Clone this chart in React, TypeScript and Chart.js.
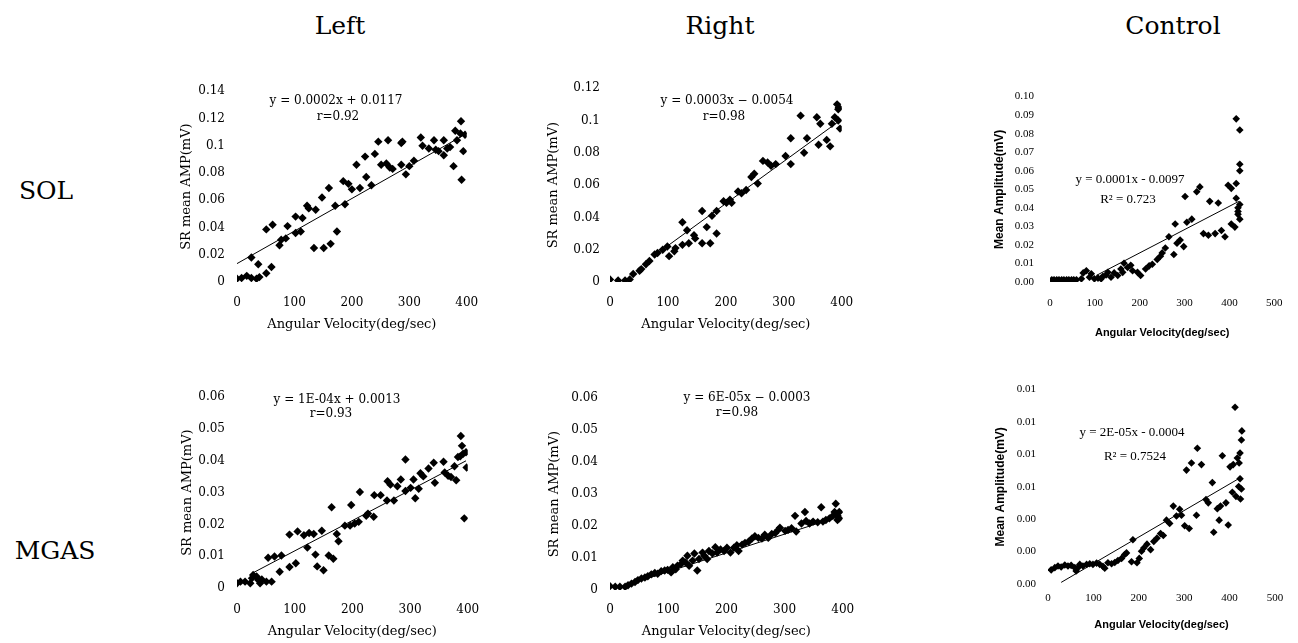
import React, { useEffect, useRef } from "react";
import { Chart, registerables } from "chart.js";

Chart.register(...registerables);

// ---------------- titles ----------------
const columnTitles = ["Left", "Right", "Control"];
const rowTitles = ["SOL", "MGAS"];

// ---------------- SOL / Left ----------------
const solLeftVel = [0, 8, 17, 25, 34, 25, 39, 37, 51, 60, 51, 62, 74, 77, 85, 88, 102, 102, 111, 114, 122, 125, 137, 134, 148, 151, 160, 163, 174, 171, 185, 188, 194, 200, 208, 214, 223, 225, 234, 240, 246, 251, 260, 263, 266, 271, 286, 288, 286, 294, 300, 308, 320, 323, 334, 343, 346, 351, 360, 360, 366, 371, 377, 380, 383, 389, 391, 394, 397, 390];
const solLeftAmp = [0.0024, 0.0029, 0.0045, 0.0029, 0.0024, 0.018, 0.0036, 0.013, 0.0064, 0.011, 0.0386, 0.042, 0.027, 0.031, 0.032, 0.041, 0.036, 0.048, 0.037, 0.047, 0.056, 0.054, 0.053, 0.025, 0.062, 0.025, 0.069, 0.028, 0.037, 0.056, 0.074, 0.057, 0.072, 0.068, 0.086, 0.069, 0.092, 0.077, 0.071, 0.094, 0.103, 0.086, 0.087, 0.104, 0.084, 0.083, 0.102, 0.103, 0.086, 0.079, 0.085, 0.089, 0.106, 0.1, 0.098, 0.104, 0.097, 0.096, 0.104, 0.093, 0.098, 0.099, 0.085, 0.111, 0.104, 0.109, 0.075, 0.096, 0.108, 0.118];
const solLeftFitVel = [0, 400];
const solLeftFitAmp = [0.0135, 0.109];
const solLeftEq = ["y = 0.0002x + 0.0117", "r=0.92"];

// ---------------- SOL / Right ----------------
const solRightVel = [0, 14, 26, 34, 40, 51, 54, 62, 68, 77, 82, 91, 99, 102, 111, 113, 125, 125, 133, 136, 145, 147, 159, 159, 167, 173, 176, 184, 184, 196, 201, 207, 210, 221, 227, 235, 244, 249, 255, 264, 272, 278, 286, 303, 312, 312, 329, 335, 340, 357, 360, 363, 374, 380, 383, 388, 394, 394, 397, 392, 395];
const solRightAmp = [0.0016, 0.001, 0.001, 0.0016, 0.005, 0.007, 0.008, 0.011, 0.013, 0.017, 0.018, 0.02, 0.022, 0.016, 0.019, 0.021, 0.037, 0.023, 0.032, 0.024, 0.029, 0.027, 0.044, 0.024, 0.034, 0.024, 0.041, 0.044, 0.03, 0.05, 0.049, 0.051, 0.049, 0.056, 0.055, 0.057, 0.065, 0.067, 0.061, 0.075, 0.074, 0.072, 0.073, 0.078, 0.089, 0.073, 0.103, 0.08, 0.089, 0.102, 0.085, 0.098, 0.088, 0.084, 0.098, 0.102, 0.107, 0.1, 0.095, 0.11, 0.108];
const solRightFitVel = [77, 397];
const solRightFitAmp = [0.0165, 0.1];
const solRightEq = ["y = 0.0003x \u2212 0.0054", "r=0.98"];

// ---------------- SOL / Control ----------------
const solCtrlVel = [4, 9, 15, 20, 26, 31, 37, 42, 48, 53, 59, 70, 74, 81, 88, 92, 99, 107, 114, 118, 125, 129, 136, 143, 151, 158, 162, 165, 173, 180, 184, 195, 202, 213, 221, 228, 239, 246, 250, 257, 265, 276, 279, 283, 290, 298, 301, 305, 316, 327, 334, 342, 353, 368, 356, 375, 382, 390, 397, 404, 404, 412, 415, 415, 419, 419, 423, 423, 423, 423, 415, 423, 419];
const solCtrlAmp = [0.0012, 0.0012, 0.0012, 0.0012, 0.0012, 0.0012, 0.0012, 0.0012, 0.0012, 0.0012, 0.0012, 0.0017, 0.0049, 0.0061, 0.0026, 0.0044, 0.0017, 0.0021, 0.0017, 0.0031, 0.0038, 0.0052, 0.0026, 0.0049, 0.0035, 0.007, 0.0052, 0.0101, 0.0078, 0.009, 0.0061, 0.0052, 0.0035, 0.007, 0.0087, 0.0096, 0.0122, 0.0139, 0.0157, 0.0183, 0.0244, 0.0148, 0.0313, 0.0209, 0.0226, 0.0191, 0.0461, 0.0322, 0.0339, 0.0487, 0.0513, 0.0261, 0.0252, 0.0261, 0.0435, 0.0426, 0.0278, 0.0244, 0.0522, 0.0505, 0.0313, 0.0296, 0.0452, 0.0531, 0.04, 0.0365, 0.0418, 0.0339, 0.06, 0.0635, 0.088, 0.082, 0.038];
const solCtrlFitVel = [103, 421];
const solCtrlFitAmp = [0.0035, 0.0435];
const solCtrlEq = ["y = 0.0001x - 0.0097", "R\u00b2 = 0.723"];

// ---------------- MGAS / Left ----------------
const mgasLeftVel = [0, 6, 14, 23, 26, 28, 34, 37, 40, 43, 51, 54, 60, 65, 74, 77, 91, 91, 102, 105, 116, 122, 125, 133, 136, 139, 147, 150, 159, 164, 167, 173, 176, 187, 196, 198, 204, 211, 213, 224, 227, 237, 238, 249, 260, 261, 266, 272, 278, 284, 292, 292, 301, 306, 309, 315, 318, 323, 332, 341, 343, 358, 360, 366, 371, 380, 377, 383, 387, 388, 390, 392, 394, 397, 398];
const mgasLeftAmp = [0.0015, 0.002, 0.002, 0.0015, 0.0031, 0.0041, 0.0036, 0.0025, 0.0015, 0.0027, 0.002, 0.0095, 0.002, 0.0099, 0.0051, 0.0102, 0.0168, 0.0066, 0.0078, 0.0178, 0.0166, 0.0127, 0.0173, 0.017, 0.0105, 0.0068, 0.018, 0.0056, 0.0102, 0.0254, 0.0092, 0.017, 0.0147, 0.0196, 0.0196, 0.0261, 0.0203, 0.0208, 0.0302, 0.0227, 0.0234, 0.0224, 0.0292, 0.0292, 0.0275, 0.0336, 0.0325, 0.0275, 0.032, 0.0341, 0.0404, 0.0305, 0.0315, 0.0341, 0.0282, 0.0312, 0.0361, 0.0351, 0.0376, 0.0394, 0.0331, 0.0397, 0.0363, 0.0353, 0.0349, 0.0339, 0.0383, 0.0412, 0.0414, 0.0478, 0.0447, 0.0422, 0.0219, 0.0427, 0.0379];
const mgasLeftFitVel = [28, 397];
const mgasLeftFitAmp = [0.0048, 0.04];
const mgasLeftEq = ["y = 1E-04x + 0.0013", "r=0.93"];

// ---------------- MGAS / Right ----------------
const mgasRightVel = [0, 9, 17, 26, 31, 37, 43, 48, 54, 60, 65, 71, 77, 82, 88, 94, 99, 105, 108, 113, 116, 122, 125, 130, 133, 136, 142, 145, 150, 153, 159, 162, 167, 170, 176, 181, 184, 190, 196, 201, 207, 213, 218, 221, 227, 232, 238, 244, 249, 255, 261, 266, 272, 278, 284, 289, 292, 301, 306, 312, 318, 320, 329, 335, 337, 343, 349, 357, 363, 366, 371, 377, 383, 386, 388, 391, 394, 391, 394];
const mgasRightAmp = [0.0012, 0.001, 0.001, 0.001, 0.0015, 0.002, 0.0025, 0.0031, 0.0036, 0.0039, 0.0043, 0.0049, 0.0053, 0.0051, 0.0059, 0.0061, 0.0063, 0.0055, 0.0071, 0.0065, 0.0076, 0.0081, 0.0092, 0.0086, 0.0107, 0.0076, 0.0092, 0.0114, 0.0061, 0.0097, 0.0117, 0.0107, 0.0097, 0.0122, 0.0114, 0.0134, 0.0117, 0.0127, 0.0122, 0.0132, 0.0117, 0.0132, 0.014, 0.0122, 0.0142, 0.0147, 0.0151, 0.0161, 0.0168, 0.0163, 0.0161, 0.0173, 0.0163, 0.0175, 0.0178, 0.0188, 0.0195, 0.0185, 0.0188, 0.0193, 0.0232, 0.0183, 0.0208, 0.0244, 0.0216, 0.0208, 0.0214, 0.0212, 0.0259, 0.0214, 0.0219, 0.0224, 0.0232, 0.0244, 0.027, 0.0219, 0.0244, 0.0232, 0.0224];
const mgasRightFitVel = [40, 394];
const mgasRightFitAmp = [0.0022, 0.023];
const mgasRightEq = ["y = 6E-05x \u2212 0.0003", "r=0.98"];

// ---------------- MGAS / Control ----------------
const mgasCtrlVel = [7, 15, 22, 29, 37, 44, 51, 59, 62, 66, 70, 77, 85, 92, 99, 107, 114, 121, 125, 132, 140, 147, 154, 162, 169, 173, 184, 187, 196, 201, 206, 211, 218, 226, 233, 240, 248, 254, 261, 268, 276, 283, 290, 294, 301, 305, 311, 316, 327, 329, 338, 348, 353, 362, 365, 373, 377, 380, 384, 392, 397, 401, 406, 408, 412, 414, 417, 420, 421, 423, 424, 426, 427, 426, 423];
const mgasCtrlAmp = [0.00087, 0.00101, 0.00111, 0.00105, 0.00117, 0.00111, 0.00115, 0.00101, 0.00081, 0.00101, 0.00121, 0.00111, 0.00121, 0.00125, 0.00121, 0.00129, 0.00121, 0.00109, 0.00097, 0.00131, 0.00125, 0.00133, 0.00145, 0.00158, 0.00182, 0.00192, 0.00137, 0.00273, 0.00131, 0.00158, 0.00202, 0.00222, 0.00246, 0.00212, 0.00263, 0.00283, 0.00311, 0.00299, 0.00394, 0.00374, 0.00481, 0.0042, 0.00461, 0.00424, 0.0036, 0.00703, 0.00343, 0.00747, 0.00424, 0.00838, 0.00737, 0.00521, 0.00501, 0.00626, 0.00319, 0.00465, 0.00394, 0.00481, 0.00792, 0.00501, 0.00364, 0.00723, 0.00566, 0.00737, 0.01091, 0.00541, 0.00778, 0.00602, 0.00747, 0.00808, 0.00525, 0.00889, 0.00945, 0.00586, 0.0065];
const mgasCtrlFitVel = [29, 426];
const mgasCtrlFitAmp = [0.0001, 0.0066];
const mgasCtrlEq = ["y = 2E-05x - 0.0004", "R\u00b2 = 0.7524"];

// ---------------- ticks ----------------
const lrXTicks = [0, 100, 200, 300, 400];
const lrXLabels = ["0", "100", "200", "300", "400"];
const ctrlXTicks = [0, 100, 200, 300, 400, 500];
const ctrlXLabels = ["0", "100", "200", "300", "400", "500"];
const solLeftYTicks = [0, 0.02, 0.04, 0.06, 0.08, 0.1, 0.12, 0.14];
const solLeftYLabels = ["0", "0.02", "0.04", "0.06", "0.08", "0.1", "0.12", "0.14"];
const solRightYTicks = [0, 0.02, 0.04, 0.06, 0.08, 0.1, 0.12];
const solRightYLabels = ["0", "0.02", "0.04", "0.06", "0.08", "0.1", "0.12"];
const solCtrlYTicks = [0, 0.01, 0.02, 0.03, 0.04, 0.05, 0.06, 0.07, 0.08, 0.09, 0.1];
const solCtrlYLabels = ["0.00", "0.01", "0.02", "0.03", "0.04", "0.05", "0.06", "0.07", "0.08", "0.09", "0.10"];
const mgasYTicks = [0, 0.01, 0.02, 0.03, 0.04, 0.05, 0.06];
const mgasYLabels = ["0", "0.01", "0.02", "0.03", "0.04", "0.05", "0.06"];
const mgasCtrlYTicks = [0, 0.002, 0.004, 0.006, 0.008, 0.01, 0.012];
const mgasCtrlYLabels = ["0.00", "0.00", "0.00", "0.01", "0.01", "0.01", "0.01"];

const lrXTitle = "Angular Velocity(deg/sec)";
const lrYTitle = "SR mean AMP(mV)";
const ctrlXTitle = "Angular Velocity(deg/sec)";
const ctrlYTitle = "Mean Amplitude(mV)";

// ---------------- styles ----------------
const LR_FAMILY = "'DejaVu Serif', 'Liberation Serif', serif";
const CT_FAMILY = "'Liberation Serif', 'DejaVu Serif', serif";
const CT_SANS = "'Liberation Sans', Arial, sans-serif";

type Style = {
  tickFamily: string; tickSize: number;
  xTitleFamily: string; xTitleSize: number; xTitleWeight: string;
  yTitleFamily: string; yTitleSize: number; yTitleWeight: string;
  eqFamily: string; eqSize: number; pointR: number;
};
const LR_STYLE: Style = {
  tickFamily: LR_FAMILY, tickSize: 12,
  xTitleFamily: LR_FAMILY, xTitleSize: 13, xTitleWeight: "normal",
  yTitleFamily: LR_FAMILY, yTitleSize: 13, yTitleWeight: "normal",
  eqFamily: LR_FAMILY, eqSize: 12, pointR: 4.2,
};
const CT_STYLE: Style = {
  tickFamily: CT_FAMILY, tickSize: 11,
  xTitleFamily: CT_SANS, xTitleSize: 11, xTitleWeight: "bold",
  yTitleFamily: CT_SANS, yTitleSize: 12, yTitleWeight: "bold",
  eqFamily: CT_FAMILY, eqSize: 13, pointR: 3.8,
};

type Layout = {
  plot: { l: number; r: number; t: number; b: number };
  yTitleX: number; yLabelR: number; xLabelY: number; xTitleY: number;
  eqPos: { x: number; y: number }[];
};

type PanelSpec = {
  id: string;
  xs: number[]; ys: number[]; fitX: number[]; fitY: number[];
  xMax: number; xTicks: number[]; xLabels: string[];
  yMax: number; yTicks: number[]; yLabels: string[];
  xTitle: string; yTitle: string; eq: string[];
  style: Style; layout: Layout;
};

const panels: PanelSpec[] = [
  {
    id: "solLeft", xs: solLeftVel, ys: solLeftAmp, fitX: solLeftFitVel, fitY: solLeftFitAmp,
    xMax: 400, xTicks: lrXTicks, xLabels: lrXLabels, yMax: 0.14, yTicks: solLeftYTicks, yLabels: solLeftYLabels,
    xTitle: lrXTitle, yTitle: lrYTitle, eq: solLeftEq, style: LR_STYLE,
    layout: { plot: { l: 237, r: 470, t: 86, b: 282 }, yTitleX: 187, yLabelR: 225, xLabelY: 303, xTitleY: 324, eqPos: [{ x: 336, y: 101 }, { x: 338, y: 117 }] },
  },
  {
    id: "solRight", xs: solRightVel, ys: solRightAmp, fitX: solRightFitVel, fitY: solRightFitAmp,
    xMax: 400, xTicks: lrXTicks, xLabels: lrXLabels, yMax: 0.12, yTicks: solRightYTicks, yLabels: solRightYLabels,
    xTitle: lrXTitle, yTitle: lrYTitle, eq: solRightEq, style: LR_STYLE,
    layout: { plot: { l: 610, r: 845, t: 85, b: 282 }, yTitleX: 554, yLabelR: 600, xLabelY: 303, xTitleY: 324, eqPos: [{ x: 727, y: 101 }, { x: 724, y: 117 }] },
  },
  {
    id: "solCtrl", xs: solCtrlVel, ys: solCtrlAmp, fitX: solCtrlFitVel, fitY: solCtrlFitAmp,
    xMax: 500, xTicks: ctrlXTicks, xLabels: ctrlXLabels, yMax: 0.1, yTicks: solCtrlYTicks, yLabels: solCtrlYLabels,
    xTitle: ctrlXTitle, yTitle: ctrlYTitle, eq: solCtrlEq, style: CT_STYLE,
    layout: { plot: { l: 1050, r: 1275, t: 88, b: 282 }, yTitleX: 999, yLabelR: 1034, xLabelY: 303, xTitleY: 333, eqPos: [{ x: 1130, y: 180 }, { x: 1128, y: 200 }] },
  },
  {
    id: "mgasLeft", xs: mgasLeftVel, ys: mgasLeftAmp, fitX: mgasLeftFitVel, fitY: mgasLeftFitAmp,
    xMax: 400, xTicks: lrXTicks, xLabels: lrXLabels, yMax: 0.06, yTicks: mgasYTicks, yLabels: mgasYLabels,
    xTitle: lrXTitle, yTitle: lrYTitle, eq: mgasLeftEq, style: LR_STYLE,
    layout: { plot: { l: 237, r: 472, t: 392, b: 588 }, yTitleX: 188, yLabelR: 225, xLabelY: 610, xTitleY: 631, eqPos: [{ x: 337, y: 400 }, { x: 331, y: 414 }] },
  },
  {
    id: "mgasRight", xs: mgasRightVel, ys: mgasRightAmp, fitX: mgasRightFitVel, fitY: mgasRightFitAmp,
    xMax: 400, xTicks: lrXTicks, xLabels: lrXLabels, yMax: 0.06, yTicks: mgasYTicks, yLabels: mgasYLabels,
    xTitle: lrXTitle, yTitle: lrYTitle, eq: mgasRightEq, style: LR_STYLE,
    layout: { plot: { l: 610, r: 845, t: 393, b: 590 }, yTitleX: 555, yLabelR: 598, xLabelY: 610, xTitleY: 631, eqPos: [{ x: 747, y: 398 }, { x: 737, y: 413 }] },
  },
  {
    id: "mgasCtrl", xs: mgasCtrlVel, ys: mgasCtrlAmp, fitX: mgasCtrlFitVel, fitY: mgasCtrlFitAmp,
    xMax: 500, xTicks: ctrlXTicks, xLabels: ctrlXLabels, yMax: 0.012, yTicks: mgasCtrlYTicks, yLabels: mgasCtrlYLabels,
    xTitle: ctrlXTitle, yTitle: ctrlYTitle, eq: mgasCtrlEq, style: CT_STYLE,
    layout: { plot: { l: 1048, r: 1275, t: 385, b: 584 }, yTitleX: 1000, yLabelR: 1036, xLabelY: 598, xTitleY: 625, eqPos: [{ x: 1132, y: 433 }, { x: 1135, y: 457 }] },
  },
];

const colTitlePos = [{ x: 340, y: 25 }, { x: 720, y: 25 }, { x: 1173, y: 25 }];
const rowTitlePos = [{ x: 46, y: 190 }, { x: 55, y: 550 }];

function Panel({ spec }: { spec: PanelSpec }) {
  const ref = useRef<HTMLCanvasElement | null>(null);
  const st = spec.style;
  const L = spec.layout;
  const padTop = 14;
  const padRight = 22;
  const yTitleLH = st.yTitleSize * 1.2;
  const xTitleLH = st.xTitleSize * 1.2;
  const tickLH = st.tickSize * 1.2;
  const left = Math.round(L.yTitleX - yTitleLH / 2);
  const top = L.plot.t - padTop;
  const yW = L.plot.l - left;
  const xH = Math.round(L.xTitleY - L.plot.b + xTitleLH / 2);
  const width = L.plot.r - left + padRight;
  const height = padTop + (L.plot.b - L.plot.t) + xH;

  useEffect(() => {
    const canvas = ref.current;
    if (!canvas) return;
    const points = spec.xs.map((x, i) => ({ x, y: spec.ys[i] }));
    const fit = spec.fitX.map((x, i) => ({ x, y: spec.fitY[i] }));
    const eqPlugin = {
      id: "eq_" + spec.id,
      afterDatasetsDraw(chart: any) {
        const ctx = chart.ctx as CanvasRenderingContext2D;
        ctx.save();
        ctx.fillStyle = "#000";
        ctx.font = `${st.eqSize}px ${st.eqFamily}`;
        ctx.textAlign = "center";
        ctx.textBaseline = "middle";
        spec.eq.forEach((t, i) => {
          const p = L.eqPos[i];
          ctx.fillText(t, p.x - left, p.y - top);
        });
        ctx.restore();
      },
    };
    const chart = new Chart(canvas, {
      type: "scatter",
      data: {
        datasets: [
          {
            type: "line",
            data: fit,
            borderColor: "#000",
            borderWidth: 1,
            pointRadius: 0,
            fill: false,
            tension: 0,
          } as any,
          {
            type: "scatter",
            data: points,
            pointStyle: "rectRot",
            pointRadius: st.pointR,
            pointHoverRadius: st.pointR,
            backgroundColor: "#000",
            borderColor: "#000",
            borderWidth: 0,
          } as any,
        ],
      },
      options: {
        animation: false,
        responsive: false,
        maintainAspectRatio: false,
        devicePixelRatio: 1,
        events: [],
        layout: { padding: { top: padTop, right: padRight, left: 0, bottom: 0 } },
        plugins: { legend: { display: false }, tooltip: { enabled: false }, title: { display: false } },
        scales: {
          x: {
            type: "linear",
            position: "bottom",
            min: 0,
            max: spec.xMax,
            grid: { display: false, drawTicks: false },
            border: { display: false },
            afterBuildTicks: (s: any) => {
              s.ticks = spec.xTicks.map((v) => ({ value: v }));
            },
            afterFit: (s: any) => {
              s.height = xH;
            },
            ticks: {
              autoSkip: false,
              maxRotation: 0,
              minRotation: 0,
              padding: L.xLabelY - L.plot.b - tickLH / 2,
              color: "#000",
              font: { family: st.tickFamily, size: st.tickSize },
              callback: (_v: any, i: number) => spec.xLabels[i],
            },
            title: {
              display: true,
              text: spec.xTitle,
              color: "#000",
              padding: 0,
              font: { family: st.xTitleFamily, size: st.xTitleSize, weight: st.xTitleWeight as any },
            },
          },
          y: {
            type: "linear",
            position: "left",
            min: 0,
            max: spec.yMax,
            grid: { display: false, drawTicks: false },
            border: { display: false },
            afterBuildTicks: (s: any) => {
              s.ticks = spec.yTicks.map((v) => ({ value: v }));
            },
            afterFit: (s: any) => {
              s.width = yW;
            },
            ticks: {
              autoSkip: false,
              padding: L.plot.l - L.yLabelR,
              color: "#000",
              font: { family: st.tickFamily, size: st.tickSize },
              callback: (_v: any, i: number) => spec.yLabels[i],
            },
            title: {
              display: true,
              text: spec.yTitle,
              color: "#000",
              padding: 0,
              font: { family: st.yTitleFamily, size: st.yTitleSize, weight: st.yTitleWeight as any },
            },
          },
        },
      } as any,
      plugins: [eqPlugin],
    });
    return () => chart.destroy();
  }, []);

  return (
    <canvas
      ref={ref}
      width={width}
      height={height}
      style={{ position: "absolute", left, top, width, height }}
    />
  );
}

const labelStyle = (x: number, y: number): React.CSSProperties => ({
  position: "absolute",
  left: x,
  top: y,
  transform: "translate(-50%, -50%)",
  fontFamily: LR_FAMILY,
  fontSize: 25,
  lineHeight: 1,
  whiteSpace: "nowrap",
  color: "#000",
});

export default function App() {
  return (
    <div
      style={{
        position: "absolute",
        left: 0,
        top: 0,
        width: 1298,
        height: 643,
        background: "#fff",
        overflow: "hidden",
      }}
    >
      {columnTitles.map((t, i) => (
        <div key={t} style={labelStyle(colTitlePos[i].x, colTitlePos[i].y)}>
          {t}
        </div>
      ))}
      {rowTitles.map((t, i) => (
        <div key={t} style={labelStyle(rowTitlePos[i].x, rowTitlePos[i].y)}>
          {t}
        </div>
      ))}
      {panels.map((p) => (
        <Panel key={p.id} spec={p} />
      ))}
    </div>
  );
}
